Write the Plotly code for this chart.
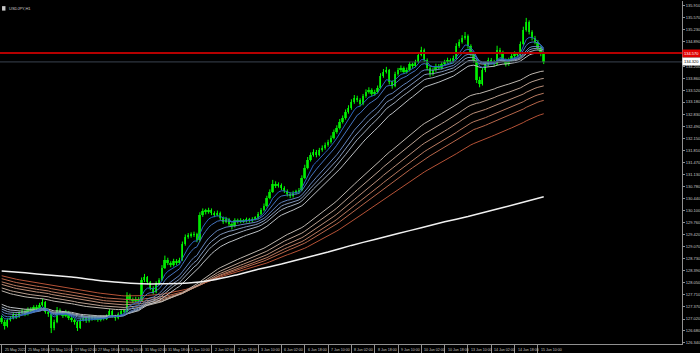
import plotly.graph_objects as go

# ---------------- data (USDJPY, 2-hour steps) ----------------
bar_hours = list(range(0, 374, 2))  # hours since 25 May 02:00 (trading hours)

close = [
    126.94, 126.82, 126.99, 127.05, 127.13, 127.08, 127.19, 127.25, 127.16, 127.30,
    127.25, 127.36, 127.30, 127.42, 127.50, 127.22, 127.16, 126.77, 126.94, 127.28,
    127.19, 127.11, 127.22, 127.05, 126.99, 126.94, 126.77, 126.99, 127.05, 126.96,
    127.08, 127.02, 127.05, 126.99, 127.08, 127.02, 127.11, 127.25, 127.11, 127.05,
    127.16, 127.25, 127.22, 127.70, 127.59, 127.53, 127.59, 127.53, 128.13, 128.21,
    128.07, 127.90, 127.79, 128.04, 128.13, 128.47, 128.70, 128.61, 128.55, 128.67,
    128.61, 128.70, 129.15, 129.35, 129.38, 129.41, 129.43, 129.26, 129.97, 130.09,
    130.06, 130.12, 130.03, 129.97, 130.03, 129.89, 129.78, 129.86, 129.72, 129.66,
    129.83, 129.78, 129.83, 129.80, 129.86, 129.80, 129.86, 129.89, 130.00, 130.12,
    130.23, 130.46, 130.63, 130.85, 130.80, 130.83, 130.74, 130.66, 130.57, 130.51,
    130.60, 130.63, 130.68, 131.03, 131.31, 131.54, 131.68, 131.76, 131.68, 131.82,
    131.88, 131.96, 132.05, 132.16, 132.33, 132.45, 132.62, 132.73, 132.90, 133.01,
    133.18, 133.30, 133.24, 133.13, 133.35, 133.47, 133.52, 133.41, 133.47, 133.58,
    133.92, 134.04, 134.09, 133.75, 133.64, 133.98, 134.09, 134.15, 134.04, 134.09,
    134.26, 134.21, 134.32, 134.52, 134.66, 134.38, 134.15, 133.98, 134.09, 134.21,
    134.15, 134.26, 134.32, 134.38, 134.32, 134.43, 134.77, 134.89, 135.00, 135.06,
    134.77, 134.55, 134.38, 133.81, 133.69, 134.09, 134.26, 134.38, 134.32, 134.26,
    134.66, 134.60, 134.38, 134.26, 134.38, 134.49, 134.55, 134.52, 134.83, 135.23,
    135.46, 135.17, 135.00, 134.89, 134.72, 134.55, 134.32,
]
high = [
    127.12, 127.00, 127.04, 127.10, 127.20, 127.18, 127.24, 127.31, 127.29, 127.35,
    127.36, 127.41, 127.42, 127.48, 127.60, 127.53, 127.26, 127.19, 127.00, 127.36,
    127.32, 127.24, 127.28, 127.25, 127.09, 127.04, 126.98, 127.04, 127.12, 127.09,
    127.13, 127.11, 127.10, 127.08, 127.12, 127.11, 127.15, 127.30, 127.28, 127.14,
    127.21, 127.30, 127.29, 127.78, 127.74, 127.63, 127.65, 127.64, 128.20, 128.30,
    128.24, 128.10, 127.95, 128.09, 128.18, 128.55, 128.82, 128.76, 128.66, 128.73,
    128.72, 128.76, 129.22, 129.42, 129.46, 129.48, 129.50, 129.47, 130.05, 130.16,
    130.15, 130.18, 130.16, 130.08, 130.10, 130.07, 129.93, 129.92, 129.89, 129.76,
    129.88, 129.87, 129.88, 129.86, 129.90, 129.89, 129.91, 129.94, 130.06, 130.17,
    130.30, 130.52, 130.70, 130.97, 130.93, 130.90, 130.87, 130.79, 130.70, 130.62,
    130.66, 130.69, 130.74, 131.10, 131.40, 131.62, 131.75, 131.84, 131.82, 131.88,
    131.95, 132.03, 132.11, 132.23, 132.40, 132.52, 132.70, 132.80, 132.97, 133.09,
    133.26, 133.38, 133.36, 133.29, 133.41, 133.54, 133.60, 133.57, 133.53, 133.65,
    134.00, 134.12, 134.18, 134.12, 133.80, 134.04, 134.15, 134.22, 134.19, 134.16,
    134.32, 134.30, 134.38, 134.60, 134.75, 134.70, 134.42, 134.20, 134.15, 134.27,
    134.26, 134.31, 134.38, 134.44, 134.42, 134.50, 134.85, 134.96, 135.08, 135.17,
    135.10, 134.82, 134.60, 134.42, 133.90, 134.15, 134.32, 134.44, 134.43, 134.38,
    134.78, 134.72, 134.64, 134.42, 134.44, 134.55, 134.62, 134.60, 134.90, 135.32,
    135.57, 135.50, 135.22, 135.06, 134.94, 134.78, 134.60,
]
low = [
    126.88, 126.72, 126.78, 126.95, 127.01, 127.02, 127.05, 127.15, 127.10, 127.12,
    127.20, 127.21, 127.25, 127.27, 127.38, 127.17, 127.08, 126.62, 126.70, 126.90,
    127.12, 127.05, 127.07, 126.99, 126.93, 126.86, 126.68, 126.74, 126.95, 126.91,
    126.92, 126.97, 126.98, 126.94, 126.95, 126.98, 126.99, 127.08, 127.06, 126.97,
    127.01, 127.12, 127.17, 127.20, 127.54, 127.47, 127.49, 127.48, 127.51, 128.07,
    128.00, 127.84, 127.72, 127.75, 127.98, 128.10, 128.44, 128.55, 128.49, 128.51,
    128.55, 128.57, 128.67, 129.10, 129.30, 129.33, 129.35, 129.20, 129.22, 129.92,
    129.99, 130.01, 129.97, 129.91, 129.93, 129.83, 129.72, 129.74, 129.66, 129.56,
    129.62, 129.73, 129.74, 129.75, 129.76, 129.76, 129.77, 129.82, 129.85, 129.96,
    130.08, 130.19, 130.42, 130.60, 130.74, 130.75, 130.68, 130.60, 130.50, 130.45,
    130.47, 130.55, 130.58, 130.65, 130.99, 131.27, 131.49, 131.63, 131.61, 131.64,
    131.77, 131.83, 131.91, 132.00, 132.12, 132.28, 132.40, 132.57, 132.68, 132.85,
    132.96, 133.13, 133.18, 133.06, 133.09, 133.30, 133.42, 133.35, 133.36, 133.42,
    133.55, 133.87, 133.99, 133.68, 133.56, 133.60, 133.93, 134.03, 133.98, 133.99,
    134.05, 134.15, 134.17, 134.28, 134.48, 134.32, 134.08, 133.90, 133.93, 134.04,
    134.09, 134.10, 134.21, 134.27, 134.26, 134.28, 134.39, 134.72, 134.84, 134.95,
    134.70, 134.48, 134.30, 133.72, 133.60, 133.65, 134.03, 134.20, 134.25, 134.19,
    134.22, 134.53, 134.31, 134.19, 134.21, 134.33, 134.44, 134.46, 134.48, 134.79,
    135.18, 135.10, 134.93, 134.82, 134.65, 134.48, 134.26,
]
open_first = 127.05
open_ = [open_first] + close[:-1]   # FX bars open at the previous close

# moving averages (EMA periods in hours) and their values at the left edge of the chart
ema_periods_short = [12, 20, 32, 40, 48, 60]
ema_start_short = [127.18, 127.22, 127.28, 127.34, 127.40, 127.47]
ema_periods_long = [120, 140, 160, 180, 200, 240]
ema_start_long = [127.85, 127.93, 128.03, 128.10, 128.19, 128.27]

# slow (white) moving average, every 16 hours
slow_ma_hours = [0, 16, 32, 48, 64, 80, 96, 112, 128, 144, 160, 176, 192, 208, 224,
                 240, 256, 272, 288, 304, 320, 336, 352, 372]
slow_ma_values = [128.38, 128.33, 128.27, 128.21, 128.13, 128.06, 128.02, 128.02, 128.04,
                  128.12, 128.26, 128.43, 128.58, 128.75, 128.92, 129.11, 129.28, 129.45,
                  129.61, 129.78, 129.93, 130.10, 130.27, 130.49]

colors_short = ["#2a64c0", "#4474bf", "#6284bd", "#8096ba", "#9eaab8", "#bcc0c4"]
colors_long = ["#bdb6ae", "#bca292", "#bb8e78", "#ba7a60", "#b8664a", "#b65236"]

hline_level = 134.57
bid_price = 134.32

x_tick_hours = list(range(0, 369, 16))
x_tick_text = [
    "25 May 2022", "25 May 18:00", "26 May 10:00", "27 May 02:00", "27 May 18:00",
    "30 May 10:00", "31 May 02:00", "31 May 18:00", "1 Jun 10:00", "2 Jun 02:00",
    "2 Jun 18:00", "3 Jun 10:00", "6 Jun 02:00", "6 Jun 18:00", "7 Jun 10:00",
    "8 Jun 02:00", "8 Jun 18:00", "9 Jun 10:00", "10 Jun 02:00", "10 Jun 18:00",
    "13 Jun 10:00", "14 Jun 02:00", "14 Jun 18:00", "15 Jun 10:00",
]
y_tick_vals = [
    126.34, 126.68, 127.02, 127.37, 127.71, 128.05, 128.39, 128.73, 129.07, 129.42,
    129.76, 130.10, 130.44, 130.78, 131.13, 131.47, 131.81, 132.15, 132.49, 132.83,
    133.18, 133.52, 133.86, 134.20, 134.89, 135.23, 135.57, 135.91,
]
y_tick_text = ["%.3f" % v for v in y_tick_vals]

FONT = "Liberation Sans Narrow, Liberation Sans"
TXT = "#c8c8c8"


def ema(values, period, start):
    a = 2.0 / (period + 1)
    a2 = 1 - (1 - a) ** 2  # two hourly updates per 2-hour step
    out, e = [], start
    for v in values:
        e = e + a2 * (v - e)
        out.append(e)
    return out


fig = go.Figure()

# candle wicks
wx, wy = [], []
for xh, lo, hi in zip(bar_hours, low, high):
    wx += [xh, xh, None]
    wy += [lo, hi, None]
fig.add_trace(go.Scatter(x=wx, y=wy, mode="lines", line=dict(color="#00ff00", width=1),
                         hoverinfo="skip"))
# candle bodies
fig.add_trace(go.Bar(x=bar_hours, y=[c - o for o, c in zip(open_, close)], base=open_,
                     width=1.3, marker=dict(color="#00c000", line=dict(width=0)),
                     hoverinfo="skip"))

# moving averages
for p, s, col in zip(ema_periods_long[::-1], ema_start_long[::-1], colors_long[::-1]):
    fig.add_trace(go.Scatter(x=bar_hours, y=ema(close, p, s), mode="lines",
                             line=dict(color=col, width=1), hoverinfo="skip"))
for p, s, col in zip(ema_periods_short[::-1], ema_start_short[::-1], colors_short[::-1]):
    fig.add_trace(go.Scatter(x=bar_hours, y=ema(close, p, s), mode="lines",
                             line=dict(color=col, width=1), hoverinfo="skip"))
fig.add_trace(go.Scatter(x=slow_ma_hours, y=slow_ma_values, mode="lines",
                         line=dict(color="#f0f0f0", width=1.5, shape="spline",
                                   smoothing=0.6),
                         hoverinfo="skip"))

# horizontal lines
fig.add_shape(type="line", xref="paper", x0=0, x1=1, y0=bid_price, y1=bid_price,
              line=dict(color="#3a4350", width=1))
fig.add_shape(type="line", xref="paper", x0=0, x1=1, y0=hline_level, y1=hline_level,
              line=dict(color="#b40000", width=2))

# price labels on the right scale
fig.add_annotation(xref="paper", x=1.0, y=hline_level, xanchor="left", yanchor="middle",
                   text="%.3f" % hline_level, showarrow=False, bgcolor="#e00000",
                   font=dict(size=4, color="#ffffff", family=FONT), borderpad=1)
fig.add_annotation(xref="paper", x=1.0, y=bid_price, xanchor="left", yanchor="middle",
                   text="%.3f" % bid_price, showarrow=False, bgcolor="#ffffff",
                   font=dict(size=4, color="#000000", family=FONT), borderpad=1)

# time labels (MetaTrader places them to the right of each tick)
for xh, t in zip(x_tick_hours, x_tick_text):
    fig.add_annotation(x=xh, xref="x", y=0, yref="paper", xanchor="left", yanchor="top",
                       yshift=-1.5, xshift=1, text=t, showarrow=False,
                       font=dict(size=3.6, color=TXT, family=FONT))

# title
fig.add_annotation(xref="paper", yref="paper", x=0.0105, y=0.992, xanchor="left",
                   yanchor="top", text="USDJPY,H1", showarrow=False,
                   font=dict(size=4, color=TXT, family=FONT))
fig.add_shape(type="rect", xref="paper", yref="paper", x0=0.003, x1=0.008, y0=0.972,
              y1=0.985, fillcolor="#c8c8c8", line=dict(width=0))

fig.update_layout(
    width=700, height=353, margin=dict(l=0, r=18, t=1, b=9),
    paper_bgcolor="#000000", plot_bgcolor="#000000", showlegend=False,
    barmode="overlay", bargap=0,
    xaxis=dict(range=[-1.17, 466.9], tickvals=x_tick_hours, showticklabels=False,
               ticks="outside", ticklen=9, tickcolor="#909090", tickwidth=1,
               showgrid=False, zeroline=False, showline=True, linecolor="#909090",
               linewidth=1, automargin=False, fixedrange=True),
    yaxis=dict(range=[126.31, 136.05], side="right", tickvals=y_tick_vals,
               ticktext=y_tick_text, ticks="outside", ticklen=2, tickcolor="#909090",
               tickfont=dict(size=4, color=TXT, family=FONT),
               showgrid=False, zeroline=False, showline=True, linecolor="#909090",
               linewidth=1, automargin=False, fixedrange=True),
)

fig.write_html("out.html")
